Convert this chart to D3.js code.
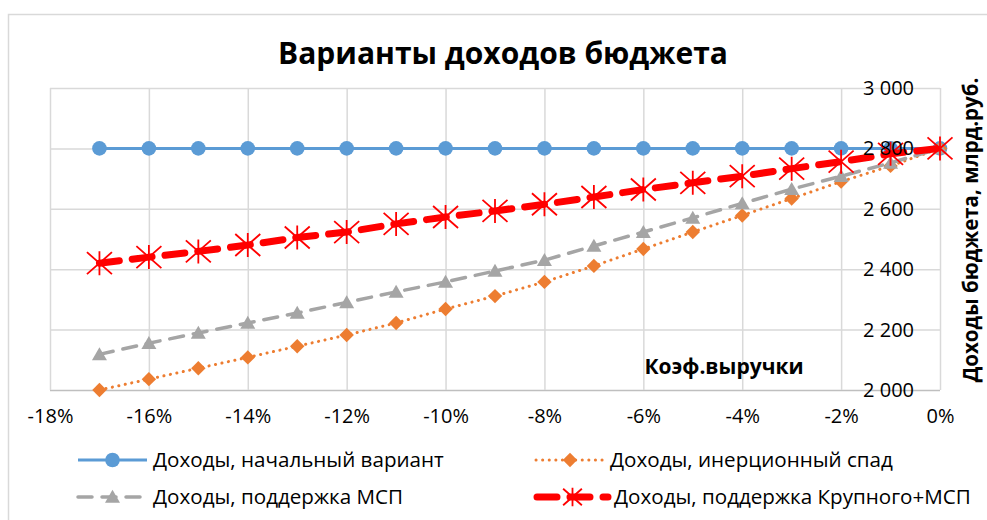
<!DOCTYPE html>
<html>
<head>
<meta charset="utf-8">
<script src="https://cdn.jsdelivr.net/npm/d3@7"></script>
<style>
  body { margin: 0; background: #fff; }
  svg { font-family: "Open Sans", sans-serif; }
</style>
</head>
<body>
<div id="chart"></div>
<script>
"use strict";

// data
var coefs = [-0.17, -0.16, -0.15, -0.14, -0.13, -0.12, -0.11, -0.10, -0.09,
             -0.08, -0.07, -0.06, -0.05, -0.04, -0.03, -0.02, -0.01, 0];
var baseIncome = [2800, 2800, 2800, 2800, 2800, 2800, 2800, 2800, 2800,
                  2800, 2800, 2800, 2800, 2800, 2800, 2800, 2800, 2800];
var inertialIncome = [2000, 2036, 2072, 2108, 2145, 2182, 2222, 2268, 2311,
                      2358, 2411, 2467, 2523, 2578, 2634, 2690, 2742, 2800];
var smeIncome = [2118, 2155, 2189, 2222, 2255, 2290, 2325, 2358, 2394,
                 2430, 2477, 2523, 2570, 2618, 2665, 2708, 2752, 2800];
var largeSmeIncome = [2420, 2440, 2459, 2480, 2505, 2523, 2550, 2573, 2593,
                      2615, 2639, 2664, 2686, 2708, 2733, 2756, 2782, 2800];
var xTicks = [-0.18, -0.16, -0.14, -0.12, -0.10, -0.08, -0.06, -0.04, -0.02, 0];
var yTicks = [2000, 2200, 2400, 2600, 2800, 3000];
var seriesNames = ["Доходы, начальный вариант", "Доходы, инерционный спад",
                   "Доходы, поддержка МСП", "Доходы, поддержка Крупного+МСП"];

var width = 987, height = 520;

var svg = d3.select("#chart").append("svg")
  .attr("width", width)
  .attr("height", height);

// chart border
svg.append("rect")
  .attr("x", 8.5).attr("y", 14.5)
  .attr("width", 1000).attr("height", 520)
  .attr("fill", "none")
  .attr("stroke", "#d9d9d9")
  .attr("stroke-width", 1.5);

var x = d3.scaleLinear().domain([-0.18, 0]).range([50, 940]);
var y = d3.scaleLinear().domain([2000, 3000]).range([390, 88]);

var spaceFmt = d3.formatLocale({ decimal: ",", thousands: " ", grouping: [3], currency: ["", ""] }).format(",");

// gridlines
svg.append("g").selectAll("line.h")
  .data(yTicks).enter().append("line")
  .attr("x1", x(-0.18)).attr("x2", x(0))
  .attr("y1", function(d) { return y(d) + 0.5; })
  .attr("y2", function(d) { return y(d) + 0.5; })
  .attr("stroke", function(d) { return d === 2000 ? "#bfbfbf" : "#d9d9d9"; })
  .attr("stroke-width", 1.5);

svg.append("g").selectAll("line.v")
  .data(xTicks).enter().append("line")
  .attr("x1", function(d) { return x(d) + 0.5; })
  .attr("x2", function(d) { return x(d) + 0.5; })
  .attr("y1", y(3000)).attr("y2", y(2000))
  .attr("stroke", "#d9d9d9")
  .attr("stroke-width", 1.5);

// x axis
var xAxis = d3.axisBottom(x)
  .tickValues(xTicks)
  .tickSize(0)
  .tickPadding(19)
  .tickFormat(function(d) { return Math.round(d * 100) + "%"; });
var gx = svg.append("g").attr("transform", "translate(0," + y(2000) + ")").call(xAxis);
gx.select(".domain").remove();
gx.selectAll("text").attr("font-size", "20px").attr("fill", "#000")
  .attr("font-family", "Open Sans, sans-serif");

// series
var series = [
  { name: seriesNames[0], values: baseIncome, color: "#5b9bd5", width: 3, dash: null, marker: "circle" },
  { name: seriesNames[1], values: inertialIncome, color: "#ed7d31", width: 3, dash: "0.1 6.5", marker: "diamond" },
  { name: seriesNames[2], values: smeIncome, color: "#a5a5a5", width: 3.5, dash: "14 10", marker: "triangle" },
  { name: seriesNames[3], values: largeSmeIncome, color: "#ff0000", width: 7, dash: "20 13", marker: "star" }
];

var line = d3.line()
  .x(function(d) { return x(d[0]); })
  .y(function(d) { return y(d[1]); });

function drawMarker(g, type, color, cx, cy, scale) {
  var s = scale || 1;
  if (type === "circle") {
    g.append("circle").attr("cx", cx).attr("cy", cy).attr("r", 7.3 * s).attr("fill", color);
  } else if (type === "diamond") {
    var r = 7.2 * s;
    g.append("path")
      .attr("d", "M" + cx + "," + (cy - r) + "L" + (cx + r) + "," + cy + "L" + cx + "," + (cy + r) + "L" + (cx - r) + "," + cy + "Z")
      .attr("fill", color);
  } else if (type === "triangle") {
    var h = 13 * s, w = 15 * s;
    g.append("path")
      .attr("d", "M" + cx + "," + (cy - h * 0.55) + "L" + (cx + w / 2) + "," + (cy + h * 0.45) + "L" + (cx - w / 2) + "," + (cy + h * 0.45) + "Z")
      .attr("fill", color);
  } else if (type === "star") {
    var a = 12.5 * s, b = 11 * s;
    g.append("path")
      .attr("d", "M" + (cx - a) + "," + (cy - b) + "L" + (cx + a) + "," + (cy + b) +
                 "M" + (cx - a) + "," + (cy + b) + "L" + (cx + a) + "," + (cy - b) +
                 "M" + cx + "," + (cy - b - 1) + "L" + cx + "," + (cy + b + 1))
      .attr("stroke", color)
      .attr("stroke-width", 1.8)
      .attr("fill", "none");
  }
}

series.forEach(function(s) {
  var pts = coefs.map(function(c, i) { return [c, s.values[i]]; });
  var g = svg.append("g");
  g.append("path")
    .datum(pts)
    .attr("d", line)
    .attr("fill", "none")
    .attr("stroke", s.color)
    .attr("stroke-width", s.width)
    .attr("stroke-linecap", s.dash ? "round" : "butt")
    .attr("stroke-dasharray", s.dash);
  pts.forEach(function(p) {
    drawMarker(g, s.marker, s.color, x(p[0]), y(p[1]));
  });
});

// y axis (right side, labels inside, drawn over the series)
var yAxis = d3.axisLeft(y)
  .tickValues(yTicks)
  .tickSize(0)
  .tickPadding(26)
  .tickFormat(spaceFmt);
var gy = svg.append("g").attr("transform", "translate(" + x(0) + ",0)").call(yAxis);
gy.select(".domain").remove();
gy.selectAll("text").attr("font-size", "20px").attr("fill", "#000")
  .attr("font-family", "Open Sans, sans-serif");

// title
svg.append("text")
  .attr("x", 503).attr("y", 64)
  .attr("text-anchor", "middle")
  .attr("font-size", "30px")
  .attr("font-weight", "bold")
  .attr("fill", "#000")
  .text("Варианты доходов бюджета");

// axis titles
svg.append("text")
  .attr("transform", "translate(978,230) rotate(-90)")
  .attr("text-anchor", "middle")
  .attr("font-size", "20.5px")
  .attr("font-weight", "bold")
  .attr("fill", "#000")
  .text("Доходы бюджета, млрд.руб.");

svg.append("text")
  .attr("x", 724).attr("y", 374)
  .attr("text-anchor", "middle")
  .attr("font-size", "21px")
  .attr("font-weight", "bold")
  .attr("fill", "#000")
  .text("Коэф.выручки");

// legend
var legendPos = [
  { x: 78, y: 460, x2: 147 },
  { x: 536, y: 460, x2: 604 },
  { x: 78, y: 497, x2: 147 },
  { x: 537, y: 497, x2: 608 }
];

series.forEach(function(s, i) {
  var p = legendPos[i];
  var g = svg.append("g");
  g.append("line")
    .attr("x1", p.x).attr("x2", p.x2)
    .attr("y1", p.y).attr("y2", p.y)
    .attr("stroke", s.color)
    .attr("stroke-width", s.width)
    .attr("stroke-linecap", s.dash ? "round" : "butt")
    .attr("stroke-dasharray", s.dash);
  drawMarker(g, s.marker, s.color, (p.x + p.x2) / 2, p.y, s.marker === "star" ? 0.75 : 1);
  g.append("text")
    .attr("x", p.x2 + 6).attr("y", p.y + 7)
    .attr("font-size", "20.6px")
    .attr("fill", "#000")
    .text(s.name);
});
</script>
</body>
</html>
